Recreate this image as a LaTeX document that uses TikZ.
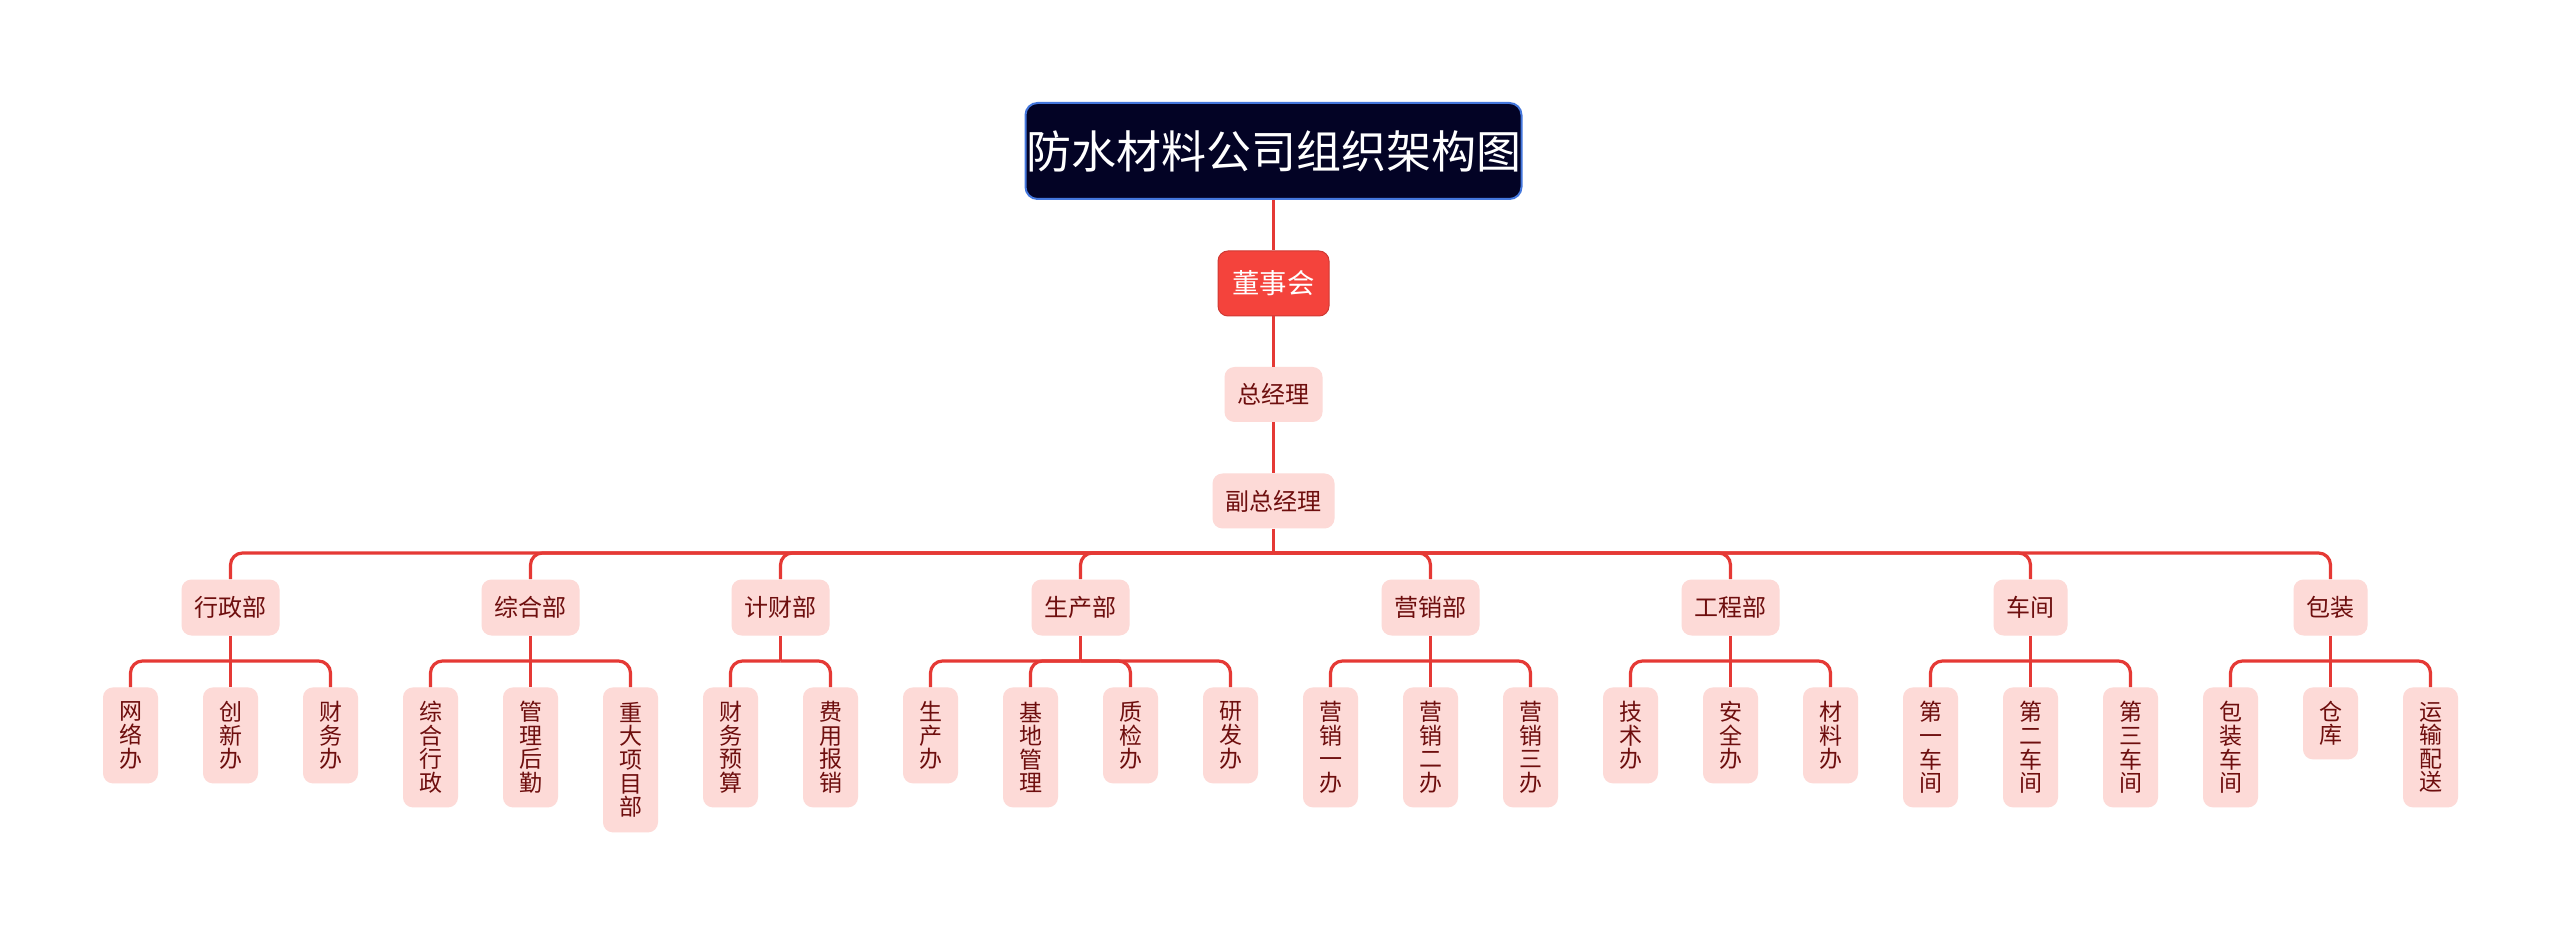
\documentclass[tikz,border=0pt]{standalone}
\usepackage{fontspec}
\setmainfont{Noto Sans CJK SC}
\definecolor{linered}{HTML}{E53935}
\definecolor{leafpink}{HTML}{FDDAD7}
\definecolor{txtred}{HTML}{6E0E0E}
\definecolor{navy}{HTML}{030325}
\definecolor{navyborder}{HTML}{4477DD}
\definecolor{boardred}{HTML}{F4433C}
\begin{document}
\begin{tikzpicture}[x=0.5pt,y=-0.5pt,
  titlebox/.style={fill=navy,draw=navyborder,line width=1pt,rounded corners=6pt,text=white,
    font=\fontsize{22.5}{26}\selectfont,minimum width=248pt,minimum height=48pt,inner sep=0pt},
  boardbox/.style={fill=boardred,draw=boardred!85!black,line width=0.5pt,rounded corners=5pt,text=white,
    font=\fontsize{13.7}{16}\selectfont,minimum width=55.5pt,minimum height=32.5pt,inner sep=0pt},
  mgrbox/.style={fill=leafpink,rounded corners=5pt,text=txtred,
    font=\fontsize{12}{14}\selectfont,minimum height=27.5pt,inner xsep=6.5pt,inner ysep=0pt},
  deptbox/.style={fill=leafpink,rounded corners=5pt,text=txtred,
    font=\fontsize{12}{14}\selectfont,minimum height=28pt,inner xsep=6.5pt,inner ysep=0pt},
  leafbox/.style={fill=leafpink,rounded corners=5pt,text=txtred,anchor=north,
    font=\fontsize{11.5}{11.8}\selectfont,align=center,minimum width=27.5pt,inner sep=0pt},
  ltwo/.style={leafbox,minimum height=36pt},
  lthree/.style={leafbox,minimum height=48pt},
  lfour/.style={leafbox,minimum height=60pt},
  lfive/.style={leafbox,minimum height=72.5pt},
  conn/.style={draw=linered,line width=1.6pt,rounded corners=6pt}
]
\useasboundingbox[fill=white] (0,0) rectangle (2560,935);

% top chain
\node[titlebox] (title) at (1273.5,151) {防水材料公司组织架构图};
\node[boardbox] (board) at (1273.5,283.5) {董事会};
\node[mgrbox] (gm) at (1273.5,394.5) {总经理};
\node[mgrbox] (vgm) at (1273.5,501) {副总经理};

% departments
\node[deptbox] (d1) at (230.5,607.5) {行政部};
\node[deptbox] (d2) at (530.5,607.5) {综合部};
\node[deptbox] (d3) at (780.5,607.5) {计财部};
\node[deptbox] (d4) at (1080.5,607.5) {生产部};
\node[deptbox] (d5) at (1430.5,607.5) {营销部};
\node[deptbox] (d6) at (1730.5,607.5) {工程部};
\node[deptbox] (d7) at (2030.5,607.5) {车间};
\node[deptbox] (d8) at (2330.5,607.5) {包装};

% leaves
\node[lthree] (a1) at (130.5,687) {网\\络\\办};
\node[lthree] (a2) at (230.5,687) {创\\新\\办};
\node[lthree] (a3) at (330.5,687) {财\\务\\办};

\node[lfour] (b1) at (430.5,687) {综\\合\\行\\政};
\node[lfour] (b2) at (530.5,687) {管\\理\\后\\勤};
\node[lfive] (b3) at (630.5,687) {重\\大\\项\\目\\部};

\node[lfour] (c1) at (730.5,687) {财\\务\\预\\算};
\node[lfour] (c2) at (830.5,687) {费\\用\\报\\销};

\node[lthree] (e1) at (930.5,687) {生\\产\\办};
\node[lfour] (e2) at (1030.5,687) {基\\地\\管\\理};
\node[lthree] (e3) at (1130.5,687) {质\\检\\办};
\node[lthree] (e4) at (1230.5,687) {研\\发\\办};

\node[lfour] (f1) at (1330.5,687) {营\\销\\一\\办};
\node[lfour] (f2) at (1430.5,687) {营\\销\\二\\办};
\node[lfour] (f3) at (1530.5,687) {营\\销\\三\\办};

\node[lthree] (g1) at (1630.5,687) {技\\术\\办};
\node[lthree] (g2) at (1730.5,687) {安\\全\\办};
\node[lthree] (g3) at (1830.5,687) {材\\料\\办};

\node[lfour] (h1) at (1930.5,687) {第\\一\\车\\间};
\node[lfour] (h2) at (2030.5,687) {第\\二\\车\\间};
\node[lfour] (h3) at (2130.5,687) {第\\三\\车\\间};

\node[lfour] (k1) at (2230.5,687) {包\\装\\车\\间};
\node[ltwo] (k2) at (2330.5,687) {仓\\库};
\node[lfour] (k3) at (2430.5,687) {运\\输\\配\\送};

% bus coordinates
\coordinate (vgm-b) at (1273.5,553);
\foreach \d in {d1,d2,d3,d4,d5,d6,d7,d8}{
  \coordinate (\d-b) at (\d.south |- 0,661);
}

% connectors
\draw[conn] (title.south) -- (board.north);
\draw[conn] (board.south) -- (gm.north);
\draw[conn] (gm.south) -- (vgm.north);
\draw[conn] (vgm.south) -- (vgm-b);
\foreach \d in {d1,d2,d3,d4,d5,d6,d7,d8}{
  \draw[conn] (vgm-b) -| (\d.north);
  \draw[conn] (\d.south) -- (\d-b);
}
\foreach \c in {a1,a2,a3}{\draw[conn] (d1-b) -| (\c.north);}
\foreach \c in {b1,b2,b3}{\draw[conn] (d2-b) -| (\c.north);}
\foreach \c in {c1,c2}{\draw[conn] (d3-b) -| (\c.north);}
\foreach \c in {e1,e2,e3,e4}{\draw[conn] (d4-b) -| (\c.north);}
\foreach \c in {f1,f2,f3}{\draw[conn] (d5-b) -| (\c.north);}
\foreach \c in {g1,g2,g3}{\draw[conn] (d6-b) -| (\c.north);}
\foreach \c in {h1,h2,h3}{\draw[conn] (d7-b) -| (\c.north);}
\foreach \c in {k1,k2,k3}{\draw[conn] (d8-b) -| (\c.north);}
\end{tikzpicture}
\end{document}
